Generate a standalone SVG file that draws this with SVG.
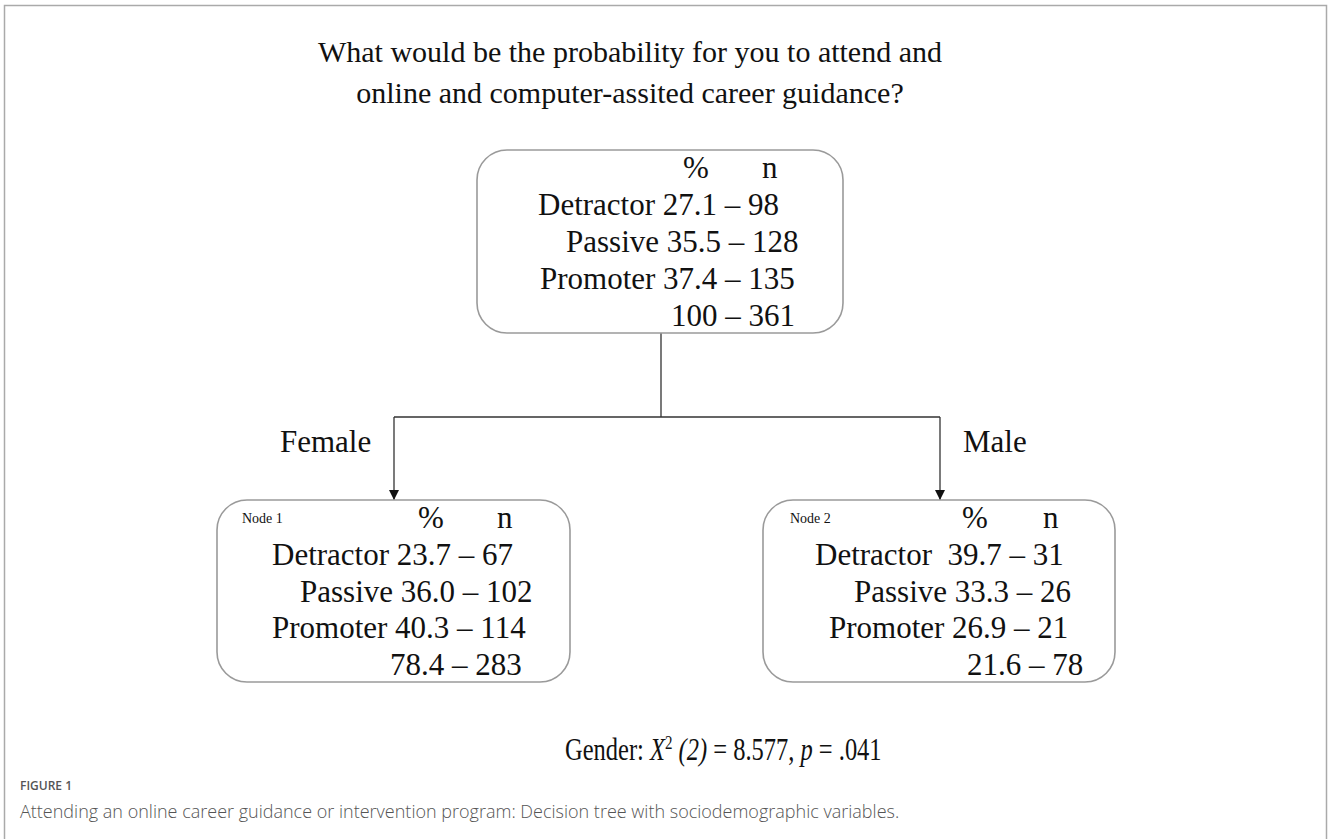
<svg xmlns="http://www.w3.org/2000/svg" width="1328" height="839" viewBox="0 0 1328 839">
<style>
.t{font-family:"Liberation Serif","Times New Roman",serif;fill:#111}
.big{font-size:31px}
.title{font-size:30px}
.lab{font-size:31px}
.small{font-size:14px}
.box{fill:#fff;stroke:#9a9a9a;stroke-width:1.6}
.conn{fill:none;stroke:#333;stroke-width:1.3}
.cap{font-family:"Open Sans","Noto Sans",sans-serif;fill:#555}
</style>
<defs>
<marker id="arr" viewBox="0 0 10 10" refX="10" refY="5" markerWidth="10" markerHeight="10" markerUnits="userSpaceOnUse" orient="auto">
<path d="M0,0 L10,5 L0,10 Z" fill="#111"/>
</marker>
</defs>
<rect width="1328" height="839" fill="#fff"/>
<path d="M4.5,839 V5.5 H1326.5 V839" fill="none" stroke="#aaa" stroke-width="1.5"/>
<g id="title">
<text class="t title" x="630" y="62" text-anchor="middle">What would be the probability for you to attend and</text>
<text class="t title" x="630" y="103" text-anchor="middle">online and computer-assited career guidance?</text>
</g>
<g id="connectors">
<path class="conn" d="M661,333 V417 M394,417 H940"/>
<path class="conn" d="M394,417 V500" marker-end="url(#arr)"/>
<path class="conn" d="M940,417 V500" marker-end="url(#arr)"/>
</g>
<g id="root">
<rect class="box" x="477" y="150" width="366" height="183" rx="30"/>
<text class="t big" x="683" y="178">%</text>
<text class="t big" x="762" y="178">n</text>
<text class="t big" x="538" y="215">Detractor 27.1 – 98</text>
<text class="t big" x="566" y="252">Passive 35.5 – 128</text>
<text class="t big" x="540" y="289">Promoter 37.4 – 135</text>
<text class="t big" x="671" y="326">100 – 361</text>
</g>
<g id="labels">
<text class="t lab" x="280" y="452">Female</text>
<text class="t lab" x="963" y="452">Male</text>
</g>
<g id="node1">
<rect class="box" x="217" y="500" width="353" height="182" rx="30"/>
<text class="t small" x="242" y="523">Node 1</text>
<text class="t big" x="418" y="528">%</text>
<text class="t big" x="497" y="528">n</text>
<text class="t big" x="272" y="565">Detractor 23.7 – 67</text>
<text class="t big" x="300" y="602">Passive 36.0 – 102</text>
<text class="t big" x="272" y="638">Promoter 40.3 – 114</text>
<text class="t big" x="390" y="675">78.4 – 283</text>
</g>
<g id="node2">
<rect class="box" x="763" y="500" width="352" height="182" rx="30"/>
<text class="t small" x="790" y="523">Node 2</text>
<text class="t big" x="962" y="528">%</text>
<text class="t big" x="1043" y="528">n</text>
<text class="t big" x="815" y="565" xml:space="preserve">Detractor  39.7 – 31</text>
<text class="t big" x="854" y="602">Passive 33.3 – 26</text>
<text class="t big" x="829" y="638">Promoter 26.9 – 21</text>
<text class="t big" x="967" y="675">21.6 – 78</text>
</g>
<g id="stat">
<text class="t big" transform="translate(565,760) scale(0.79,1)">Gender: <tspan font-style="italic">X</tspan><tspan font-size="19" dy="-11">2</tspan><tspan dy="11" font-style="italic"> (2)</tspan> = 8.577, <tspan font-style="italic">p</tspan> = .041</text>
</g>
<g id="caption">
<text class="cap" x="20" y="790" font-size="12" font-weight="600" fill="#666">FIGURE 1</text>
<text class="cap" x="20" y="818" font-size="18" font-weight="300">Attending an online career guidance or intervention program: Decision tree with sociodemographic variables.</text>
</g>
</svg>
